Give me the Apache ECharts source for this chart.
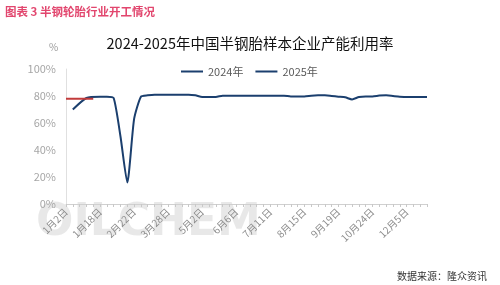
<!DOCTYPE html>
<html><head><meta charset="utf-8">
<script src="https://cdn.jsdelivr.net/npm/echarts@6/dist/echarts.min.js"></script>
<style>html,body{margin:0;padding:0;background:#fff}#c{width:500px;height:285px}</style>
</head><body><div id="c"></div>
<script>
var categories = ['1月2日','1月4日','1月9日','1月11日','1月16日','1月18日','1月25日','2月1日','2月8日','2月15日',
  '2月22日','2月29日','3月7日','3月14日','3月21日','3月28日','4月4日','4月11日','4月18日','4月25日',
  '5月2日','5月9日','5月16日','5月23日','5月30日','6月6日','6月13日','6月20日','6月27日','7月4日',
  '7月11日','7月18日','7月25日','8月1日','8月8日','8月15日','8月22日','8月29日','9月5日','9月12日',
  '9月19日','9月26日','10月3日','10月10日','10月17日','10月24日','10月31日','11月7日','11月14日','11月21日',
  '12月5日','12月12日','12月19日','12月26日'];
var series2024 = [null,70,null,78.5,null,79.5,79.5,78.5,50,16,
  63,79.5,80.5,81,81,81,81,81,81,80.5,
  79.3,79.3,79.3,80.2,80.2,80.2,80.2,80.2,80.2,80.2,
  80.2,80.2,80.2,79.7,79.7,79.7,80.2,80.5,80.5,80,
  79.5,79,77.5,79.2,79.7,79.7,80.3,80.5,80,79.5,
  79.2,79.2,79.2,79.2];
var series2025 = [78,null,78,null,78];
var yTicks = [0,20,40,60,80,100];

var FONT = '"Noto Sans CJK SC","Noto Sans",sans-serif';
var chart = echarts.init(document.getElementById('c'));
chart.setOption({
  animation:false,
  textStyle:{fontFamily:FONT},
  title:[
    {text:'图表 3 半钢轮胎行业开工情况',left:0,top:1,textStyle:{fontSize:11.5,fontWeight:'bold',color:'#E2466E',fontFamily:FONT}},
    {text:'2024-2025年中国半钢胎样本企业产能利用率',left:'center',top:31,textStyle:{fontSize:14.5,fontWeight:'normal',color:'#111',fontFamily:FONT}},
    {text:'%',left:44,top:37,textStyle:{fontSize:10,fontWeight:'normal',color:'#999',fontFamily:FONT}},
    {text:'数据来源：隆众资讯',right:8,top:266,textStyle:{fontSize:10,fontWeight:'normal',color:'#333',fontFamily:FONT}}
  ],
  graphic:[{type:'text',left:36,top:202,z:-1,style:{text:'OILCHEM',fontSize:44,fontWeight:'bold',fill:'rgba(0,0,0,0.09)',fontFamily:'"DejaVu Sans",sans-serif'}}],
  legend:{
    top:61,left:176,itemWidth:22,itemHeight:2,itemGap:12,icon:'rect',
    textStyle:{fontSize:11,color:'#595959',fontFamily:FONT},
    data:[{name:'2024年',itemStyle:{color:'#1B3F6E'}},{name:'2025年',itemStyle:{color:'#1B3F6E'}}]
  },
  grid:{left:66,right:73,top:69,bottom:81},
  xAxis:{
    type:'category',data:categories,boundaryGap:false,
    axisLine:{lineStyle:{color:'#d0d0d0'}},
    axisTick:{show:true,interval:0,length:3,lineStyle:{color:'#c8c8c8'}},
    axisLabel:{interval:4,rotate:45,fontSize:10,color:'#8c8c8c',margin:6,fontFamily:FONT}
  },
  yAxis:{
    type:'value',min:yTicks[0],max:yTicks[yTicks.length-1],interval:20,
    axisLine:{show:true,lineStyle:{color:'#e0e0e0'}},
    axisTick:{show:false},splitLine:{show:false},
    axisLabel:{formatter:'{value}%',fontSize:11,color:'#a6a6a6',margin:10,fontFamily:FONT}
  },
  series:[
    {name:'2024年',type:'line',data:series2024,connectNulls:true,showSymbol:false,smooth:0.2,
     lineStyle:{color:'#1B3F6E',width:2},itemStyle:{color:'#1B3F6E'}},
    {name:'2025年',type:'line',data:series2025,connectNulls:true,showSymbol:false,
     lineStyle:{color:'#C23B3B',width:2},itemStyle:{color:'#C23B3B'}}
  ]
});
</script></body></html>
